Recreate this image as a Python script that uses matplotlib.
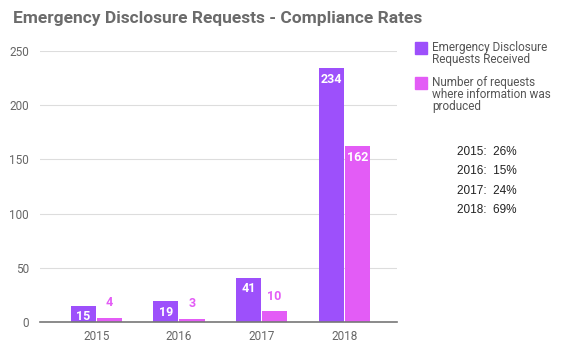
import numpy as np
import matplotlib.pyplot as plt
from matplotlib.patches import Rectangle

years = ['2015', '2016', '2017', '2018']
received = [15, 19, 41, 234]
produced = [4, 3, 10, 162]
rates = ['26%', '15%', '24%', '69%']
series_names = ['Emergency Disclosure\nRequests Received',
                'Number of requests\nwhere information was\nproduced']

purple = '#9d50fb'
pink = '#e35cf6'
colors = [purple, pink]

plt.rcParams['font.family'] = ['Roboto', 'DejaVu Sans']

fig = plt.figure(figsize=(5.79, 3.59), dpi=100)
ax = fig.add_axes([0.069, 0.103, 0.617, 0.755])

x = np.arange(len(years))
w = 0.315
for k, vals in enumerate([received, produced]):
    pos = x + (k - 0.5) * w
    bars = ax.bar(pos, vals, width=w - 0.01, color=colors[k], zorder=3)
    for b, v in zip(bars, vals):
        cx = b.get_x() + b.get_width() / 2
        if v > 12:
            ax.text(cx, v - 4, str(v), ha='center', va='top', color='white',
                    fontsize=9, fontweight='bold', zorder=4)
        else:
            ax.text(cx, v + 8, str(v), ha='center', va='bottom', color=colors[k],
                    fontsize=9, fontweight='bold', zorder=4)

ax.set_ylim(0, 250)
ax.set_xlim(-0.68, 3.64)
ax.set_yticks(range(0, 251, 50))
ax.set_xticks(x)
ax.set_xticklabels(years)
ax.grid(axis='y', color='#dddddd', linewidth=0.8, zorder=0)
for s in ['top', 'right', 'left']:
    ax.spines[s].set_visible(False)
ax.spines['bottom'].set_color('#777777')
ax.spines['bottom'].set_linewidth(1.2)
ax.spines['bottom'].set_zorder(5)
ax.tick_params(length=0, labelsize=8.5, labelcolor='#666666', pad=6)
ax.tick_params(axis='y', pad=8)

fig.text(0.022, 0.948, 'Emergency Disclosure Requests - Compliance Rates',
         fontsize=12.5, fontweight='bold', color='#6b6b6b', va='center')

# legend drawn by hand
leg_y = [0.872, 0.775]
for k in range(2):
    fig.patches.append(Rectangle((0.717, leg_y[k] - 0.022), 0.02, 0.032,
                                 transform=fig.transFigure, color=colors[k]))
    fig.text(0.746, leg_y[k] + 0.014, series_names[k], fontsize=8.5,
             color='#555555', va='top', linespacing=0.92)

for i, (yr, r) in enumerate(zip(years, rates)):
    fig.text(0.789, 0.577 - i * 0.054, f'{yr}:  {r}', fontsize=8.5,
             family='Liberation Sans', color='#222222', va='center')

fig.savefig('out.png', dpi=100)
